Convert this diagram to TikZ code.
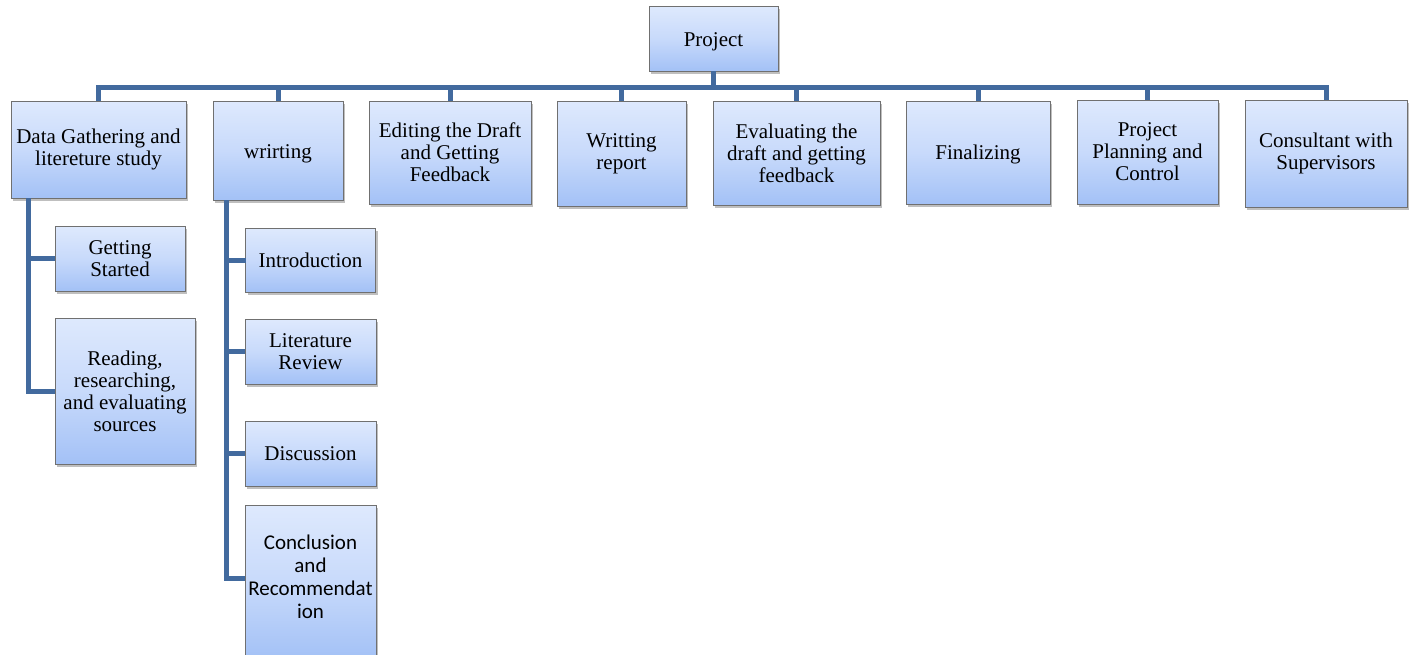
\documentclass[tikz,border=0pt]{standalone}
\usepackage{fontspec}
\setmainfont{Liberation Serif}
\newfontfamily\calfont{Carlito}
\usetikzlibrary{shadows}
\definecolor{conncol}{RGB}{66,106,158}
\definecolor{boxtop}{RGB}{222,233,253}
\definecolor{boxmid}{RGB}{200,218,251}
\definecolor{boxbot}{RGB}{163,193,246}
\definecolor{boxline}{RGB}{112,112,112}
\newcommand{\lowr}[2]{\raisebox{-#1}[\height][\depth]{#2}}
\begin{document}
\begin{tikzpicture}[x=1pt,y=-1pt,
  box/.style={draw=boxline, line width=0.8pt, top color=boxtop, bottom color=boxbot, middle color=boxmid,
    inner sep=1pt, outer sep=0pt, align=center, font=\fontsize{21}{22}\selectfont,
    drop shadow={shadow xshift=2pt, shadow yshift=-3pt, opacity=0.5}},
  link/.style={draw=conncol, line width=5pt}]
\useasboundingbox (0,0) rectangle (1415,654);
\coordinate (bus) at (0,87);
\node[box, minimum width=129pt, minimum height=65pt] (proj) at (713.5,38.5) {\lowr{3.5pt}{Project}};
\node[box, minimum width=175pt, minimum height=97pt] (n1) at (98.5,149.5) {Data Gathering and\\litereture study};
\node[box, minimum width=130pt, minimum height=99pt] (n2) at (278,150.5) {\lowr{3pt}{wrirting}};
\node[box, minimum width=162pt, minimum height=103pt] (n3) at (450,152.5) {Editing the Draft\\and Getting\\Feedback};
\node[box, minimum width=129pt, minimum height=105pt] (n4) at (621.5,153.5) {Writting\\report};
\node[box, minimum width=167pt, minimum height=104pt] (n5) at (796.5,153) {Evaluating the\\draft and getting\\feedback};
\node[box, minimum width=144pt, minimum height=103pt] (n6) at (978,152.5) {\lowr{1.5pt}{Finalizing}};
\node[box, minimum width=141pt, minimum height=104pt] (n7) at (1147.5,152) {Project\\Planning and\\Control};
\node[box, minimum width=162pt, minimum height=107pt] (n8) at (1326,153.5) {Consultant with\\Supervisors};
\node[box, minimum width=130pt, minimum height=65pt] (c11) at (120,258.5) {Getting\\Started};
\node[box, minimum width=140pt, minimum height=146pt] (c12) at (125,391) {Reading,\\researching,\\and evaluating\\sources};
\node[box, minimum width=130pt, minimum height=64pt] (c21) at (310.5,260) {Introduction};
\node[box, minimum width=131pt, minimum height=65pt] (c22) at (310.5,351.5) {Literature\\Review};
\node[box, minimum width=131pt, minimum height=65pt] (c23) at (310.5,453.5) {Discussion};
\node[box, minimum width=131pt, minimum height=154pt, font=\calfont\fontsize{21}{23}\selectfont] (c24) at (310.5,582) {\lowr{-3pt}{\begin{tabular}{@{}c@{}}Conclusion\\[0pt]and\\Recommendat\\ion\end{tabular}}};
\foreach \n in {n1,n2,n3,n4,n5,n6,n7,n8}{
  \draw[link] (proj.south) -- (proj.south |- bus) -| (\n.north);
}
\coordinate (v1) at ([xshift=17pt]n1.south west);
\draw[link] (v1) |- (c11.west);
\draw[link] (v1) |- (c12.west);
\coordinate (v2) at ([xshift=13pt]n2.south west);
\draw[link] (v2) |- (c21.west);
\draw[link] (v2) |- (c22.west);
\draw[link] (v2) |- (c23.west);
\draw[link] (v2) |- ([yshift=4pt]c24.west);
\end{tikzpicture}
\end{document}
